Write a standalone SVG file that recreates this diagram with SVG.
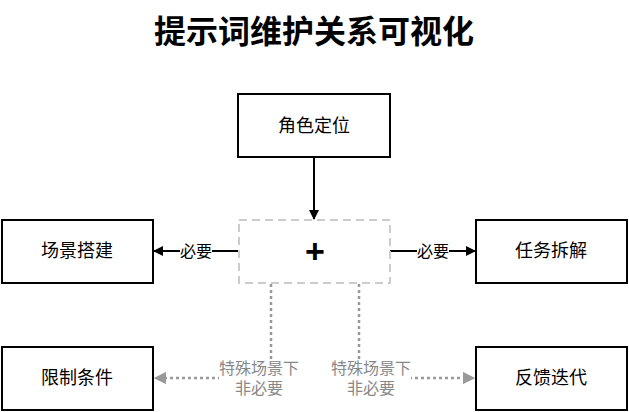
<svg xmlns="http://www.w3.org/2000/svg" width="629" height="412" viewBox="0 0 629 412">
<defs>
<style>
text{font-family:"Liberation Sans","Noto Sans CJK SC",sans-serif;}
.box{fill:#fff;stroke:#000;stroke-width:2;}
.lbl{font-size:18px;text-anchor:middle;dominant-baseline:central;fill:#000;}
.req{font-size:16px;text-anchor:middle;dominant-baseline:central;fill:#000;}
.opt{font-size:16px;text-anchor:middle;dominant-baseline:central;fill:#888;}
.solid{stroke:#000;stroke-width:2;fill:none;}
.dot{stroke:#999;stroke-width:2.5;fill:none;stroke-dasharray:3 3;}
</style>
<marker id="ab" viewBox="0 0 10 10" refX="9" refY="5" markerWidth="5" markerHeight="5" orient="auto"><path d="M0,0L10,5L0,10z" fill="#000"/></marker>
<marker id="ag" viewBox="0 0 10 10" refX="9" refY="5" markerWidth="5" markerHeight="5" orient="auto"><path d="M0,0L10,5L0,10z" fill="#999"/></marker>
</defs>
<rect width="629" height="412" fill="#fff"/>
<text x="314" y="32" font-size="32" font-weight="bold" text-anchor="middle" dominant-baseline="central">提示词维护关系可视化</text>
<g id="connectors">
<line class="solid" x1="314" y1="158" x2="314" y2="219" marker-end="url(#ab)"/>
<line class="solid" x1="239" y1="251" x2="154" y2="251" marker-end="url(#ab)"/>
<line class="solid" x1="390" y1="251" x2="475" y2="251" marker-end="url(#ab)"/>
<polyline class="dot" points="271,284 271,378 155,378" marker-end="url(#ag)"/>
<polyline class="dot" points="359,284 359,378 474,378" marker-end="url(#ag)"/>
<rect x="180" y="242" width="32" height="18" fill="#fff"/>
<text class="req" x="196" y="251">必要</text>
<rect x="417" y="242" width="32" height="18" fill="#fff"/>
<text class="req" x="433" y="251">必要</text>
<rect x="219" y="359" width="80" height="40" fill="#fff"/>
<text class="opt" x="259" y="368">特殊场景下</text>
<text class="opt" x="259" y="388">非必要</text>
<rect x="331" y="359" width="80" height="40" fill="#fff"/>
<text class="opt" x="371" y="368">特殊场景下</text>
<text class="opt" x="371" y="388">非必要</text>
</g>
<g id="role"><rect class="box" x="238" y="94" width="152" height="63"/><text class="lbl" x="314" y="126">角色定位</text></g>
<g id="center"><rect x="239" y="220" width="151" height="63" fill="#fff" stroke="#ccc" stroke-width="2" stroke-dasharray="8 5"/><text x="315" y="251" font-size="34" font-weight="bold" text-anchor="middle" dominant-baseline="central">+</text></g>
<g id="scene"><rect class="box" x="2" y="220" width="151" height="63"/><text class="lbl" x="77" y="251">场景搭建</text></g>
<g id="task"><rect class="box" x="476" y="220" width="151" height="63"/><text class="lbl" x="551" y="251">任务拆解</text></g>
<g id="limit"><rect class="box" x="2" y="347" width="151" height="63"/><text class="lbl" x="77" y="378">限制条件</text></g>
<g id="feedback"><rect class="box" x="476" y="347" width="151" height="63"/><text class="lbl" x="551" y="378">反馈迭代</text></g>
</svg>
